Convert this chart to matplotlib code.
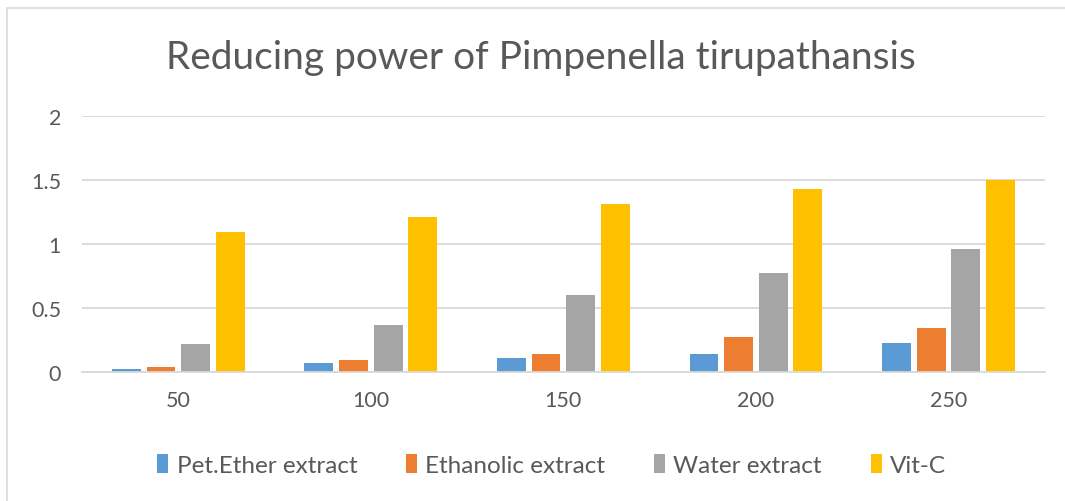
import matplotlib.pyplot as plt
import matplotlib.patches as mpatches
import numpy as np

plt.rcParams["font.family"] = ["Lato", "DejaVu Sans"]

concentrations = ["50", "100", "150", "200", "250"]
series_names = ["Pet.Ether extract", "Ethanolic extract", "Water extract", "Vit-C"]

pet_ether = [0.02, 0.07, 0.11, 0.14, 0.23]
ethanolic = [0.04, 0.09, 0.14, 0.27, 0.34]
water = [0.22, 0.37, 0.60, 0.77, 0.96]
vit_c = [1.09, 1.21, 1.31, 1.43, 1.50]

colors = ["#5B9BD5", "#ED7D31", "#A5A5A5", "#FFC000"]
text_color = "#595959"

fig = plt.figure(figsize=(10.65, 5.02), dpi=100)
ax = fig.add_axes([0.077, 0.257, 0.904, 0.51])

# light frame like the Excel chart area
fig.patches.append(mpatches.Rectangle((7 / 1065, -0.1), 1.2, 1 - 9 / 502 + 0.1,
                                      transform=fig.transFigure, fill=False,
                                      edgecolor="#D9D9D9", linewidth=1.2))

x = np.arange(len(concentrations))
bar_width = 0.15
step = 0.18
all_series = [pet_ether, ethanolic, water, vit_c]
for i, vals in enumerate(all_series):
    offset = (i - 1.5) * step
    ax.bar(x + offset, vals, bar_width, color=colors[i], label=series_names[i], zorder=2)

ax.set_xlim(-0.5, len(concentrations) - 0.5)
ax.set_ylim(0, 2)
ax.set_yticks([0, 0.5, 1, 1.5, 2])
ax.set_yticklabels(["0", "0.5", "1", "1.5", "2"])
ax.set_xticks(x)
ax.set_xticklabels(concentrations)

ax.grid(axis="y", color="#D9D9D9", linewidth=1.3, zorder=0)
for s in ["top", "right", "left"]:
    ax.spines[s].set_visible(False)
ax.spines["bottom"].set_color("#D9D9D9")
ax.spines["bottom"].set_linewidth(1.3)
ax.tick_params(axis="both", length=0, labelsize=15.5, colors=text_color)
ax.tick_params(axis="x", pad=13)
ax.tick_params(axis="y", pad=15)

fig.text(0.508, 0.885, "Reducing power of Pimpenella tirupathansis", ha="center", va="center",
         fontsize=28, color=text_color)

fig.legend(loc="center", bbox_to_anchor=(0.518, 0.072), ncol=4, frameon=False,
           fontsize=17.5, labelcolor=text_color, handlelength=0.45, handleheight=0.8,
           handletextpad=0.35, columnspacing=2.0)

fig.savefig("out.png", dpi=100)
